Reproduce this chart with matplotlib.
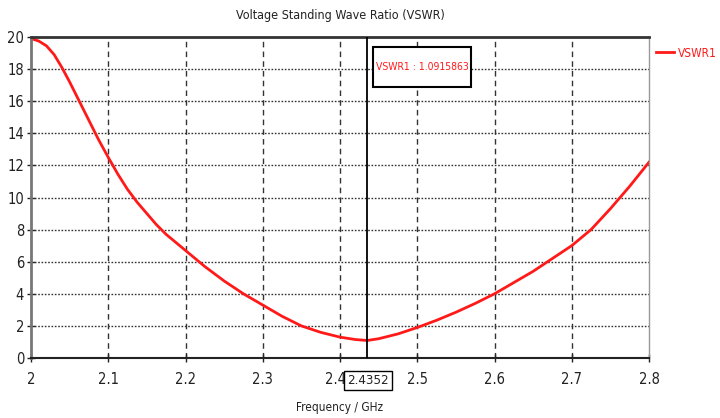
import numpy as np
import matplotlib.pyplot as plt
import matplotlib.transforms as mtransforms
from matplotlib.patches import Rectangle

# values
freq = [2.000, 2.010, 2.020, 2.030, 2.040, 2.050, 2.0625, 2.075, 2.0875, 2.100,
        2.1125, 2.125, 2.1375, 2.150, 2.1625, 2.175, 2.1875, 2.200, 2.225,
        2.250, 2.275, 2.300, 2.325, 2.350, 2.375, 2.400, 2.420, 2.4352, 2.450, 2.475,
        2.500, 2.525, 2.550, 2.575, 2.600, 2.625, 2.650, 2.675, 2.700, 2.725,
        2.750, 2.775, 2.800]
vswr = [19.9, 19.75, 19.45, 18.9, 18.1, 17.2, 16.0, 14.8, 13.6, 12.5,
        11.45, 10.5, 9.7, 9.0, 8.3, 7.7, 7.2, 6.7, 5.7,
        4.8, 4.0, 3.3, 2.6, 2.0, 1.6, 1.3, 1.15, 1.0916, 1.2, 1.5,
        1.9, 2.35, 2.85, 3.4, 4.0, 4.7, 5.4, 6.2, 7.0, 8.0,
        9.3, 10.7, 12.2]
marker_f = 2.4352
marker_v = 1.0915863
xticks = [2, 2.1, 2.2, 2.3, 2.4, 2.5, 2.6, 2.7, 2.8]
xticklabels = ['2', '2.1', '2.2', '2.3', '2.4', '2.5', '2.6', '2.7', '2.8']
yticks = list(range(0, 21, 2))

plt.rcParams['font.family'] = ['DejaVu Sans']
plt.rcParams['font.stretch'] = 'condensed'

fig = plt.figure(figsize=(7.2, 4.18), dpi=100)
ax = fig.add_axes([31/720, 1-358/418, (649-31)/720, (358-37)/418])

ax.plot(freq, vswr, color='#ff1a1a', linewidth=2, label='VSWR1')
ax.set_xlim(2, 2.8)
ax.set_ylim(0, 20)

ax.set_xticks(xticks)
ax.set_xticklabels(xticklabels)
ax.set_yticks(yticks)
ax.tick_params(labelsize=10.5, colors='#222222', direction='inout', length=6, width=1)
ax.tick_params(axis='x', pad=7)
ax.tick_params(axis='y', pad=2)

# nudge the 2.4 label left so it clears the marker box
lbl = ax.get_xticklabels()[4]
lbl.set_transform(lbl.get_transform() + mtransforms.ScaledTranslation(-3/72, 0, fig.dpi_scale_trans))

for x in xticks[1:-1]:
    ax.axvline(x, color='#333333', linewidth=1, linestyle=(0, (4, 3)), zorder=0)
for y in yticks[1:-1]:
    ax.axhline(y, color='#333333', linewidth=1, linestyle=(0, (1.2, 1.2)), zorder=0)

ax.spines['top'].set_color('#333333')
ax.spines['top'].set_linewidth(2)
ax.spines['bottom'].set_color('#222222')
ax.spines['bottom'].set_linewidth(1.5)
ax.spines['left'].set_color('#777777')
ax.spines['left'].set_linewidth(2)
ax.spines['right'].set_color('#999999')
ax.spines['right'].set_linewidth(1)

# marker cursor
ax.axvline(marker_f, color='black', linewidth=1.3, zorder=3)
ax.add_patch(Rectangle((2.443, 16.88), 0.126, 2.5, facecolor='white',
                       edgecolor='black', linewidth=1.5, zorder=4))
ax.text(2.506, 18.13, 'VSWR1 : %.7f' % marker_v, color='#ff1a1a', fontsize=7.5,
        ha='center', va='center', zorder=5)
ax.text(marker_f + 0.0015, -1.0, '%.4f' % marker_f, fontsize=9.5, color='#222222',
        ha='center', va='top', zorder=5,
        bbox=dict(boxstyle='square,pad=0.25', facecolor='white', edgecolor='black', linewidth=1))

ax.set_title('Voltage Standing Wave Ratio (VSWR)', fontsize=9, pad=13, color='#222222')
ax.set_xlabel('Frequency / GHz', fontsize=8.5, color='#222222', labelpad=10)

ax.legend(loc='upper left', bbox_to_anchor=(1.012, 0.97), frameon=False, fontsize=8.5,
          handlelength=1.5, handletextpad=0.35, labelcolor='#ff1a1a',
          borderaxespad=0, borderpad=0)

fig.savefig('out.png', dpi=100)
